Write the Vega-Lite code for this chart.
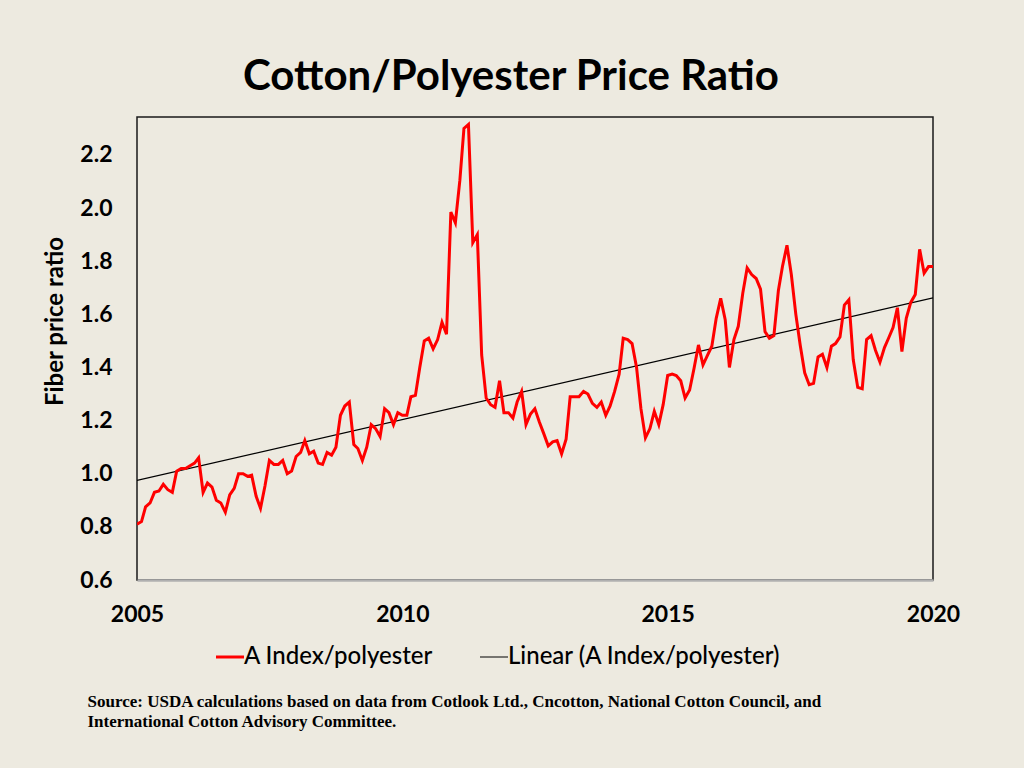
{
  "$schema": "https://vega.github.io/schema/vega-lite/v6.json",
  "autosize": "none",
  "width": 796,
  "height": 463,
  "padding": {"left": 137, "top": 117, "right": 91, "bottom": 188},
  "background": "#EDEAE0",
  "config": {
    "font": "Lato",
    "view": {"stroke": "#1a1a1a", "strokeWidth": 1.5}
  },
  "title": {
    "text": "Cotton/Polyester Price Ratio",
    "font": "Lato",
    "fontSize": 42,
    "fontWeight": "bold",
    "color": "#000000",
    "anchor": "middle",
    "frame": "group",
    "baseline": "alphabetic",
    "offset": -15,
    "dx": -24
  },
  "datasets": {
    "ratio": [
      {"d":"2005/01/01","v":0.81},{"d":"2005/02/01","v":0.82},{"d":"2005/03/01","v":0.875},{"d":"2005/04/01","v":0.89},{"d":"2005/05/01","v":0.93},{"d":"2005/06/01","v":0.935},{"d":"2005/07/01","v":0.96},{"d":"2005/08/01","v":0.94},{"d":"2005/09/01","v":0.93},{"d":"2005/10/01","v":1.01},{"d":"2005/11/01","v":1.02},{"d":"2005/12/01","v":1.02},
      {"d":"2006/01/01","v":1.03},{"d":"2006/02/01","v":1.04},{"d":"2006/03/01","v":1.06},{"d":"2006/04/01","v":0.93},{"d":"2006/05/01","v":0.965},{"d":"2006/06/01","v":0.95},{"d":"2006/07/01","v":0.9},{"d":"2006/08/01","v":0.89},{"d":"2006/09/01","v":0.855},{"d":"2006/10/01","v":0.92},{"d":"2006/11/01","v":0.945},{"d":"2006/12/01","v":1.0},
      {"d":"2007/01/01","v":1.0},{"d":"2007/02/01","v":0.99},{"d":"2007/03/01","v":0.995},{"d":"2007/04/01","v":0.915},{"d":"2007/05/01","v":0.87},{"d":"2007/06/01","v":0.955},{"d":"2007/07/01","v":1.05},{"d":"2007/08/01","v":1.035},{"d":"2007/09/01","v":1.035},{"d":"2007/10/01","v":1.05},{"d":"2007/11/01","v":1.0},{"d":"2007/12/01","v":1.01},
      {"d":"2008/01/01","v":1.065},{"d":"2008/02/01","v":1.08},{"d":"2008/03/01","v":1.125},{"d":"2008/04/01","v":1.075},{"d":"2008/05/01","v":1.085},{"d":"2008/06/01","v":1.04},{"d":"2008/07/01","v":1.035},{"d":"2008/08/01","v":1.08},{"d":"2008/09/01","v":1.07},{"d":"2008/10/01","v":1.1},{"d":"2008/11/01","v":1.22},{"d":"2008/12/01","v":1.255},
      {"d":"2009/01/01","v":1.27},{"d":"2009/02/01","v":1.11},{"d":"2009/03/01","v":1.095},{"d":"2009/04/01","v":1.05},{"d":"2009/05/01","v":1.1},{"d":"2009/06/01","v":1.185},{"d":"2009/07/01","v":1.17},{"d":"2009/08/01","v":1.14},{"d":"2009/09/01","v":1.245},{"d":"2009/10/01","v":1.23},{"d":"2009/11/01","v":1.185},{"d":"2009/12/01","v":1.23},
      {"d":"2010/01/01","v":1.22},{"d":"2010/02/01","v":1.22},{"d":"2010/03/01","v":1.29},{"d":"2010/04/01","v":1.295},{"d":"2010/05/01","v":1.4},{"d":"2010/06/01","v":1.5},{"d":"2010/07/01","v":1.51},{"d":"2010/08/01","v":1.47},{"d":"2010/09/01","v":1.505},{"d":"2010/10/01","v":1.57},{"d":"2010/11/01","v":1.525},{"d":"2010/12/01","v":1.985},
      {"d":"2011/01/01","v":1.945},{"d":"2011/02/01","v":2.105},{"d":"2011/03/01","v":2.3},{"d":"2011/04/01","v":2.315},{"d":"2011/05/01","v":1.87},{"d":"2011/06/01","v":1.9},{"d":"2011/07/01","v":1.447},{"d":"2011/08/01","v":1.285},{"d":"2011/09/01","v":1.26},{"d":"2011/10/01","v":1.25},{"d":"2011/11/01","v":1.35},{"d":"2011/12/01","v":1.23},
      {"d":"2012/01/01","v":1.23},{"d":"2012/02/01","v":1.21},{"d":"2012/03/01","v":1.27},{"d":"2012/04/01","v":1.31},{"d":"2012/05/01","v":1.185},{"d":"2012/06/01","v":1.225},{"d":"2012/07/01","v":1.245},{"d":"2012/08/01","v":1.195},{"d":"2012/09/01","v":1.15},{"d":"2012/10/01","v":1.105},{"d":"2012/11/01","v":1.12},{"d":"2012/12/01","v":1.125},
      {"d":"2013/01/01","v":1.075},{"d":"2013/02/01","v":1.13},{"d":"2013/03/01","v":1.29},{"d":"2013/04/01","v":1.29},{"d":"2013/05/01","v":1.29},{"d":"2013/06/01","v":1.31},{"d":"2013/07/01","v":1.3},{"d":"2013/08/01","v":1.265},{"d":"2013/09/01","v":1.25},{"d":"2013/10/01","v":1.27},{"d":"2013/11/01","v":1.22},{"d":"2013/12/01","v":1.255},
      {"d":"2014/01/01","v":1.31},{"d":"2014/02/01","v":1.375},{"d":"2014/03/01","v":1.51},{"d":"2014/04/01","v":1.505},{"d":"2014/05/01","v":1.49},{"d":"2014/06/01","v":1.4},{"d":"2014/07/01","v":1.245},{"d":"2014/08/01","v":1.135},{"d":"2014/09/01","v":1.17},{"d":"2014/10/01","v":1.235},{"d":"2014/11/01","v":1.185},{"d":"2014/12/01","v":1.26},
      {"d":"2015/01/01","v":1.37},{"d":"2015/02/01","v":1.375},{"d":"2015/03/01","v":1.37},{"d":"2015/04/01","v":1.35},{"d":"2015/05/01","v":1.285},{"d":"2015/06/01","v":1.315},{"d":"2015/07/01","v":1.395},{"d":"2015/08/01","v":1.485},{"d":"2015/09/01","v":1.41},{"d":"2015/10/01","v":1.445},{"d":"2015/11/01","v":1.48},{"d":"2015/12/01","v":1.585},
      {"d":"2016/01/01","v":1.66},{"d":"2016/02/01","v":1.58},{"d":"2016/03/01","v":1.4},{"d":"2016/04/01","v":1.505},{"d":"2016/05/01","v":1.555},{"d":"2016/06/01","v":1.68},{"d":"2016/07/01","v":1.775},{"d":"2016/08/01","v":1.75},{"d":"2016/09/01","v":1.735},{"d":"2016/10/01","v":1.695},{"d":"2016/11/01","v":1.535},{"d":"2016/12/01","v":1.51},
      {"d":"2017/01/01","v":1.52},{"d":"2017/02/01","v":1.69},{"d":"2017/03/01","v":1.78},{"d":"2017/04/01","v":1.86},{"d":"2017/05/01","v":1.75},{"d":"2017/06/01","v":1.6},{"d":"2017/07/01","v":1.485},{"d":"2017/08/01","v":1.38},{"d":"2017/09/01","v":1.335},{"d":"2017/10/01","v":1.34},{"d":"2017/11/01","v":1.44},{"d":"2017/12/01","v":1.45},
      {"d":"2018/01/01","v":1.4},{"d":"2018/02/01","v":1.48},{"d":"2018/03/01","v":1.49},{"d":"2018/04/01","v":1.515},{"d":"2018/05/01","v":1.635},{"d":"2018/06/01","v":1.655},{"d":"2018/07/01","v":1.43},{"d":"2018/08/01","v":1.325},{"d":"2018/09/01","v":1.32},{"d":"2018/10/01","v":1.505},{"d":"2018/11/01","v":1.52},{"d":"2018/12/01","v":1.465},
      {"d":"2019/01/01","v":1.42},{"d":"2019/02/01","v":1.475},{"d":"2019/03/01","v":1.51},{"d":"2019/04/01","v":1.55},{"d":"2019/05/01","v":1.625},{"d":"2019/06/01","v":1.46},{"d":"2019/07/01","v":1.585},{"d":"2019/08/01","v":1.645},{"d":"2019/09/01","v":1.675},{"d":"2019/10/01","v":1.845},{"d":"2019/11/01","v":1.755},{"d":"2019/12/01","v":1.78},
      {"d":"2020/01/01","v":1.78}
    ],
    "trend": [
      {"d":"2005/01/01","v":0.975},
      {"d":"2020/01/01","v":1.662}
    ]
  },
  "encoding": {
    "x": {
      "field": "d",
      "type": "temporal",
      "scale": {"domain": [{"year": 2005, "month": 1, "date": 1}, {"year": 2020, "month": 1, "date": 1}]},
      "axis": {
        "values": [{"year": 2005, "month": 1, "date": 1}, {"year": 2010, "month": 1, "date": 1}, {"year": 2015, "month": 1, "date": 1}, {"year": 2020, "month": 1, "date": 1}],
        "format": "%Y",
        "labelFont": "Lato",
        "labelFontSize": 23,
        "labelFontWeight": "bold",
        "labelColor": "#000000",
        "labelPadding": 23,
        "labelFlush": false,
        "labelOverlap": false,
        "ticks": false,
        "grid": false,
        "domainColor": "#b0b0b0",
        "domainWidth": 2.5,
        "title": ["Source:  USDA calculations based on data from Cotlook Ltd., Cncotton, National Cotton Council, and", "International Cotton Advisory Committee."],
        "titleFont": "Liberation Serif",
        "titleFontSize": 17,
        "titleFontWeight": "bold",
        "titleColor": "#000000",
        "titleAnchor": "start",
        "titleAlign": "left",
        "titleBaseline": "alphabetic",
        "titleLineHeight": 20,
        "titleX": -50,
        "titleY": 126
      }
    },
    "y": {
      "field": "v",
      "type": "quantitative",
      "scale": {"domain": [0.6, 2.343], "nice": false, "zero": false},
      "axis": {
        "values": [0.6, 0.8, 1.0, 1.2, 1.4, 1.6, 1.8, 2.0, 2.2],
        "format": ".1f",
        "labelFont": "Lato",
        "labelFontSize": 23,
        "labelFontWeight": "bold",
        "labelColor": "#000000",
        "labelPadding": 25,
        "ticks": false,
        "grid": false,
        "domain": false,
        "title": "Fiber price ratio",
        "titleFont": "Lato",
        "titleFontSize": 24,
        "titleFontWeight": "bold",
        "titleColor": "#000000",
        "titleAngle": -90,
        "titleAlign": "center",
        "titleBaseline": "middle",
        "titleX": -82,
        "titleY": 204
      }
    },
    "color": {
      "scale": {"domain": ["A Index/polyester", "Linear (A Index/polyester)"], "range": ["#FF0000", "#000000"]},
      "legend": {
        "title": null,
        "orient": "none",
        "direction": "horizontal",
        "legendX": 81,
        "legendY": 528,
        "symbolType": "stroke",
        "symbolSize": 784,
        "symbolStrokeWidth": 3,
        "labelFont": "Lato",
        "labelFontSize": 24,
        "labelFontWeight": 500,
        "labelLimit": 500,
        "labelColor": "#000000",
        "labelOffset": 2,
        "columnPadding": 44,
        "encode": {
          "symbols": {"update": {"strokeWidth": {"signal": "datum.value === 'A Index/polyester' ? 3 : 1"}}}
        }
      }
    }
  },
  "layer": [
    {
      "data": {"name": "trend"},
      "mark": {"type": "line", "strokeWidth": 1.2, "clip": true},
      "encoding": {"color": {"datum": "Linear (A Index/polyester)"}}
    },
    {
      "data": {"name": "ratio"},
      "mark": {"type": "line", "strokeWidth": 3, "clip": true},
      "encoding": {"color": {"datum": "A Index/polyester"}}
    }
  ]
}
